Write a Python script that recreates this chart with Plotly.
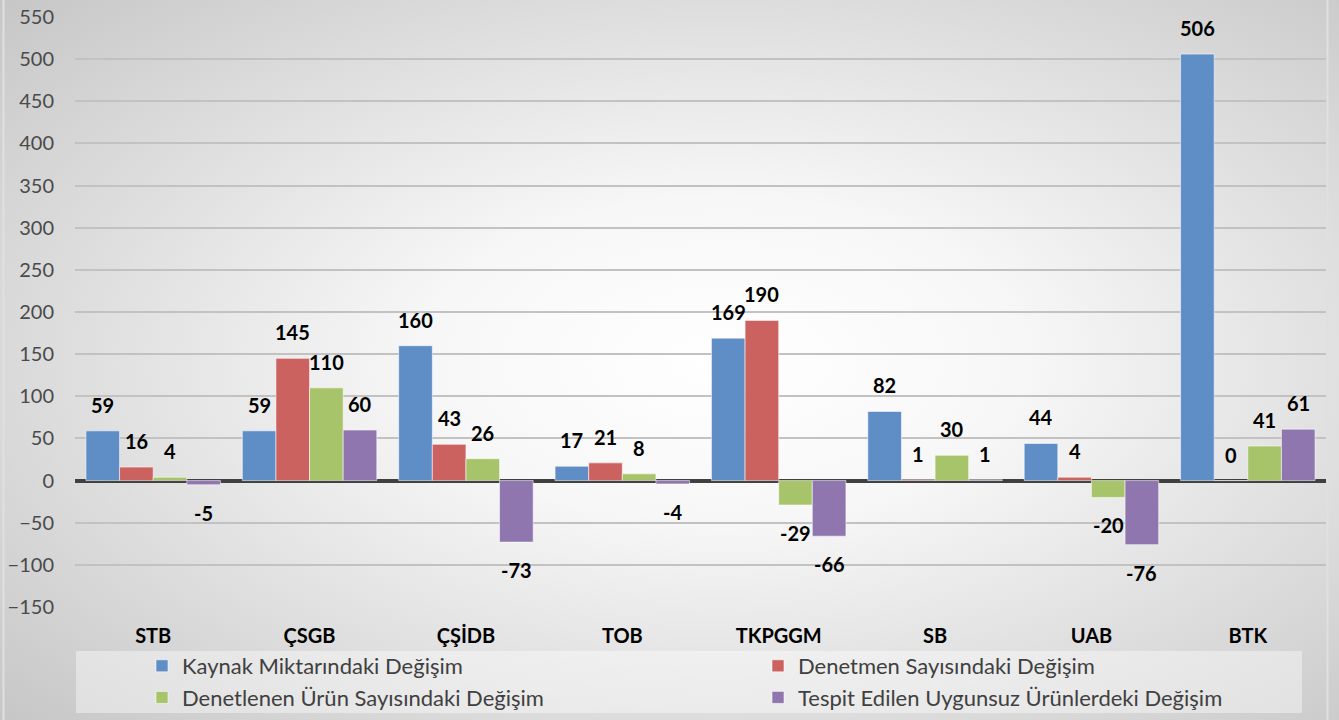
import base64
import plotly.graph_objects as go

categories = ["STB", "ÇSGB", "ÇŞİDB", "TOB", "TKPGGM", "SB", "UAB", "BTK"]
series_names = [
    "Kaynak Miktarındaki Değişim",
    "Denetmen Sayısındaki Değişim",
    "Denetlenen Ürün Sayısındaki Değişim",
    "Tespit Edilen Uygunsuz Ürünlerdeki Değişim",
]
kaynak = [59, 59, 160, 17, 169, 82, 44, 506]
denetmen = [16, 145, 43, 21, 190, 1, 4, 0]
denetlenen = [4, 110, 26, 8, -29, 30, -20, 41]
uygunsuz = [-5, 60, -73, -4, -66, 1, -76, 61]
y_ticks = [-150, -100, -50, 0, 50, 100, 150, 200, 250, 300, 350, 400, 450, 500, 550]

series_values = [kaynak, denetmen, denetlenen, uygunsuz]
colors = ["#5f8dc6", "#cc6260", "#a7c46b", "#8f76ae"]

W, H = 1339, 720
ML, MR, MT, MB = 75, 13, 17, 113
PW, PH = W - ML - MR, H - MT - MB
BARGAP = 0.14
FONT = "Lato"

fig = go.Figure()
for name, vals, col in zip(series_names, series_values, colors):
    fig.add_trace(go.Bar(
        x=categories, y=vals, name=name,
        marker=dict(color=col, line=dict(color="rgba(255,255,255,0.55)", width=1)),
    ))

# data labels
catw = PW / len(categories)
bw = catw * (1 - BARGAP) / len(series_values)
ann = []
for i, vals in enumerate(series_values):
    xs = (i - (len(series_values) - 1) / 2) * bw
    for c, v in zip(categories, vals):
        ann.append(dict(
            x=c, y=v, xref="x", yref="y", text=str(v), showarrow=False,
            xshift=xs, yshift=26 if v >= 0 else -28,
            font=dict(family=FONT, size=20, color="#000000", weight="bold"),
        ))

# radial gradient background
svg = (
    '<svg xmlns="http://www.w3.org/2000/svg" width="1339" height="720" preserveAspectRatio="none">'
    '<defs><radialGradient id="g" cx="0.54" cy="0.5" r="0.74">'
    '<stop offset="0" stop-color="#ffffff"/>'
    '<stop offset="0.3" stop-color="#f7f7f7"/>'
    '<stop offset="1" stop-color="#c6c6c6"/>'
    '</radialGradient></defs>'
    '<rect x="0" y="0" width="1339" height="720" fill="url(#g)"/>'
    '<line x1="3.5" y1="0" x2="3.5" y2="720" stroke="#e0e0e0" stroke-width="2"/>'
    '<line x1="1327.5" y1="0" x2="1327.5" y2="720" stroke="#e0e0e0" stroke-width="2"/>'
    '</svg>'
)
src = "data:image/svg+xml;base64," + base64.b64encode(svg.encode()).decode()

fig.update_layout(
    width=W, height=H,
    margin=dict(l=ML, r=MR, t=MT, b=MB, autoexpand=False),
    paper_bgcolor="rgba(0,0,0,0)", plot_bgcolor="rgba(0,0,0,0)",
    barmode="group", bargap=BARGAP, bargroupgap=0,
    font=dict(family=FONT, color="#404040"),
    images=[dict(
        source=src, xref="paper", yref="paper",
        x=-ML / PW, y=1 + MT / PH, sizex=W / PW, sizey=H / PH,
        xanchor="left", yanchor="top", sizing="stretch", layer="below",
    )],
    shapes=[dict(
        type="rect", xref="paper", yref="paper",
        x0=(76 - ML) / PW, x1=(1302 - ML) / PW,
        y0=-(713 - MT - PH) / PH, y1=-(651 - MT - PH) / PH,
        fillcolor="rgba(255,255,255,0.4)", line=dict(width=0), layer="below",
    )],
    legend=dict(
        orientation="h", x=(142 - ML) / PW, xanchor="left",
        y=-(645 - MT - PH) / PH, yanchor="top",
        entrywidth=571, entrywidthmode="pixels",
        bgcolor="rgba(0,0,0,0)",
        font=dict(family=FONT, size=22, color="#404040"),
        traceorder="normal",
    ),
    annotations=ann,
    xaxis=dict(
        showgrid=False, showline=False, ticks="",
        tickfont=dict(family=FONT, size=20, color="#000000", weight="bold"),
        ticklabelstandoff=15,
    ),
    yaxis=dict(
        range=[-150, 550], tickvals=y_ticks,
        showgrid=True, gridcolor="#c2c2c2", gridwidth=1.5,
        zeroline=True, zerolinecolor="#404040", zerolinewidth=3.5,
        showline=False, ticks="",
        tickfont=dict(family=FONT, size=20, color="#4a4a4a"),
        ticklabelstandoff=20,
    ),
    showlegend=True,
)

fig.write_html("out.html", config={"displayModeBar": False},
               post_script="document.body.style.margin='0';")
